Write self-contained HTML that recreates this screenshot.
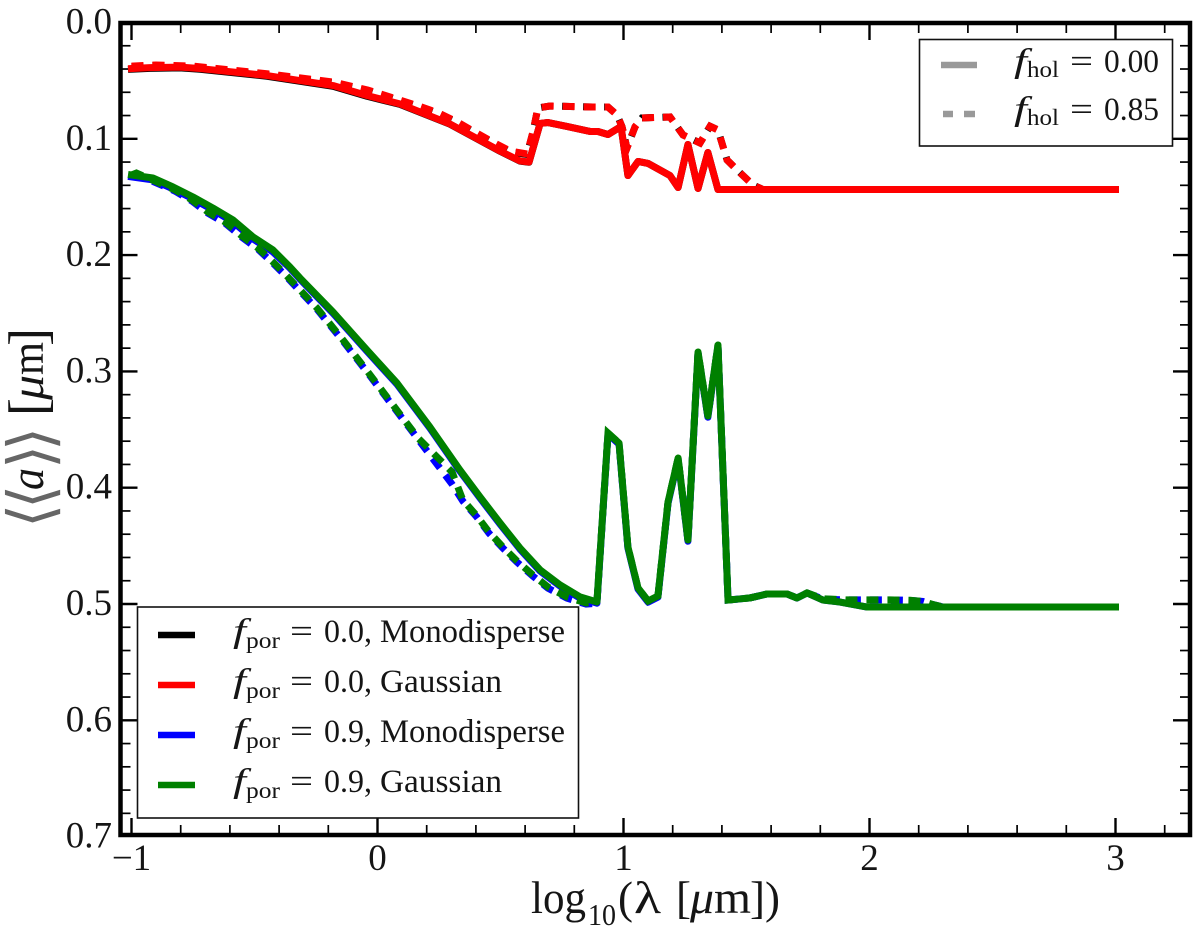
<!DOCTYPE html>
<html>
<head>
<meta charset="utf-8">
<style>
html,body{margin:0;padding:0;background:#fff;}
svg{display:block;}
text{font-family:"Liberation Serif","DejaVu Serif",serif;fill:#151515;}
</style>
</head>
<body>
<svg id="chart" width="1200" height="935" viewBox="0 0 1200 935" xmlns="http://www.w3.org/2000/svg">
<rect x="0" y="0" width="1200" height="935" fill="#fff"/>
<g id="ticks"></g>
<defs><clipPath id="plotclip"><rect x="121" y="23" width="1068" height="812"/></clipPath></defs>
<g id="series" clip-path="url(#plotclip)"></g>
<rect x="120.5" y="23" width="1069.5" height="812" fill="none" stroke="#000" stroke-width="4.5"/>
<g id="ticklabels"></g>

<g>
<text x="531" y="913" font-size="45" textLength="55" lengthAdjust="spacingAndGlyphs">log</text>
<text x="588" y="925" font-size="31" textLength="28" lengthAdjust="spacingAndGlyphs">10</text>
<text x="618" y="913" font-size="45">(</text>
<text x="634" y="913" font-size="45" textLength="27" lengthAdjust="spacingAndGlyphs">λ</text>
<text x="676" y="913" font-size="45">[</text>
<text x="690" y="913" font-size="45" font-style="italic" textLength="24" lengthAdjust="spacingAndGlyphs">μ</text>
<text x="714" y="913" font-size="45" textLength="37" lengthAdjust="spacingAndGlyphs">m</text>
<text x="750" y="913" font-size="45">])</text>
</g>

<g transform="translate(43,522) rotate(-90)">
<text x="-6" y="9" font-size="62" style="font-family:'DejaVu Sans',sans-serif;fill:#666">⟨</text>
<text x="13" y="9" font-size="62" style="font-family:'DejaVu Sans',sans-serif;fill:#666">⟨</text>
<text x="32" y="0" font-size="48" font-style="italic" textLength="22" lengthAdjust="spacingAndGlyphs">a</text>
<text x="53" y="9" font-size="62" style="font-family:'DejaVu Sans',sans-serif;fill:#666">⟩</text>
<text x="71" y="9" font-size="62" style="font-family:'DejaVu Sans',sans-serif;fill:#666">⟩</text>
<text x="106" y="3" font-size="54">[</text>
<text x="122" y="0" font-size="45" font-style="italic" textLength="25" lengthAdjust="spacingAndGlyphs">μ</text>
<text x="147" y="0" font-size="45" textLength="33" lengthAdjust="spacingAndGlyphs">m</text>
<text x="176" y="3" font-size="54">]</text>
</g>

<g>
<rect x="137.5" y="607" width="441" height="211" fill="#fff" stroke="#111" stroke-width="1.6"/>
<g>
<line x1="158" x2="195" y1="635" y2="635" stroke="#000" stroke-width="6.5"/>
<text x="233" y="642" font-size="34" font-style="italic" textLength="13" lengthAdjust="spacingAndGlyphs">f</text>
<text x="246" y="648" font-size="23" textLength="34" lengthAdjust="spacingAndGlyphs">por</text>
<text x="290" y="642" font-size="33" textLength="23" lengthAdjust="spacingAndGlyphs">=</text>
<text x="324" y="642" font-size="33" textLength="48" lengthAdjust="spacingAndGlyphs">0.0,</text>
<text x="380" y="642" font-size="33" textLength="185" lengthAdjust="spacingAndGlyphs">Monodisperse</text>
</g>
<g>
<line x1="158" x2="195" y1="685" y2="685" stroke="#f00" stroke-width="6.5"/>
<text x="233" y="692" font-size="34" font-style="italic" textLength="13" lengthAdjust="spacingAndGlyphs">f</text>
<text x="246" y="698" font-size="23" textLength="34" lengthAdjust="spacingAndGlyphs">por</text>
<text x="290" y="692" font-size="33" textLength="23" lengthAdjust="spacingAndGlyphs">=</text>
<text x="324" y="692" font-size="33" textLength="48" lengthAdjust="spacingAndGlyphs">0.0,</text>
<text x="380" y="692" font-size="33" textLength="122" lengthAdjust="spacingAndGlyphs">Gaussian</text>
</g>
<g>
<line x1="158" x2="195" y1="735" y2="735" stroke="#00f" stroke-width="6.5"/>
<text x="233" y="742" font-size="34" font-style="italic" textLength="13" lengthAdjust="spacingAndGlyphs">f</text>
<text x="246" y="748" font-size="23" textLength="34" lengthAdjust="spacingAndGlyphs">por</text>
<text x="290" y="742" font-size="33" textLength="23" lengthAdjust="spacingAndGlyphs">=</text>
<text x="324" y="742" font-size="33" textLength="48" lengthAdjust="spacingAndGlyphs">0.9,</text>
<text x="380" y="742" font-size="33" textLength="185" lengthAdjust="spacingAndGlyphs">Monodisperse</text>
</g>
<g>
<line x1="158" x2="195" y1="785" y2="785" stroke="#008000" stroke-width="6.5"/>
<text x="233" y="792" font-size="34" font-style="italic" textLength="13" lengthAdjust="spacingAndGlyphs">f</text>
<text x="246" y="798" font-size="23" textLength="34" lengthAdjust="spacingAndGlyphs">por</text>
<text x="290" y="792" font-size="33" textLength="23" lengthAdjust="spacingAndGlyphs">=</text>
<text x="324" y="792" font-size="33" textLength="48" lengthAdjust="spacingAndGlyphs">0.9,</text>
<text x="380" y="792" font-size="33" textLength="122" lengthAdjust="spacingAndGlyphs">Gaussian</text>
</g>
</g>

<g>
<rect x="919.5" y="39.5" width="253" height="106.5" fill="#fff" stroke="#111" stroke-width="1.6"/>
<g>
<line x1="941" x2="977" y1="65" y2="65" stroke="#999" stroke-width="6.5"/>
<text x="1014" y="72" font-size="34" font-style="italic" textLength="13" lengthAdjust="spacingAndGlyphs">f</text>
<text x="1027" y="77" font-size="23" textLength="32" lengthAdjust="spacingAndGlyphs">hol</text>
<text x="1070" y="72" font-size="33" textLength="23" lengthAdjust="spacingAndGlyphs">=</text>
<text x="1104" y="72" font-size="33" textLength="55" lengthAdjust="spacingAndGlyphs">0.00</text>
</g>
<g>
<line x1="943" x2="953" y1="114" y2="114" stroke="#999" stroke-width="6.5"/>
<line x1="964" x2="975" y1="114" y2="114" stroke="#999" stroke-width="6.5"/>
<text x="1014" y="120" font-size="34" font-style="italic" textLength="13" lengthAdjust="spacingAndGlyphs">f</text>
<text x="1027" y="125" font-size="23" textLength="32" lengthAdjust="spacingAndGlyphs">hol</text>
<text x="1070" y="120" font-size="33" textLength="23" lengthAdjust="spacingAndGlyphs">=</text>
<text x="1104" y="120" font-size="33" textLength="55" lengthAdjust="spacingAndGlyphs">0.85</text>
</g>
</g>
</svg>
<script>
const xTickValues = [-1, 0, 1, 2, 3];
const xTickLabels = ["\u22121", "0", "1", "2", "3"];
const yTickValues = [0, 0.1, 0.2, 0.3, 0.4, 0.5, 0.6, 0.7];
const yTickLabels = ["0.0", "0.1", "0.2", "0.3", "0.4", "0.5", "0.6", "0.7"];

const lamPor0Solid = [-1,-.925,-.803,-.722,-.449,-.181,-.043,.091,.295,.498,.579,.616,.661,.693,.770,.864,.896,.937,.990,1.018,1.059,1.100,1.189,1.222,1.262,1.303,1.343,1.384,3];
const blackSolid = [.0402,.0394,.039,.0402,.0462,.0548,.0634,.0704,.0875,.1107,.1192,.1202,.0868,.086,.0894,.0937,.0937,.0963,.0894,.1316,.1195,.1212,.1316,.1419,.1049,.1427,.1118,.1436,.1436];
const redSolid = [.0396,.0388,.0384,.0396,.0456,.0542,.0628,.07,.0873,.1105,.119,.12,.0868,.086,.0894,.0937,.0937,.0963,.0894,.1316,.1195,.1212,.1316,.1419,.1049,.1427,.1118,.1436,.1436];

const lamPor0Dashed = [-1,-.9,-.75,-.45,-.18,-.04,.09,.167,.248,.325,.396,.469,.539,.608,.632,.652,.701,.876,.937,.974,.994,1.014,1.047,1.075,1.189,1.242,1.311,1.352,1.384,1.421,1.462,1.526,1.567,3];
const blackDashed = [.038,.037,.038,.0445,.0517,.0585,.0671,.0723,.0783,.0861,.0947,.1033,.111,.1135,.0941,.0735,.0718,.0727,.0727,.0795,.0896,.1079,.0896,.0821,.0812,.0967,.1036,.0892,.0924,.1182,.1268,.1397,.1436,.1436];
const redDashed = [.0375,.0365,.0375,.044,.0512,.058,.0666,.0718,.0778,.0856,.0942,.1028,.1105,.113,.0941,.0735,.0718,.0727,.0727,.0795,.0896,.1079,.0896,.0821,.0812,.0967,.1036,.0892,.0924,.1182,.1268,.1397,.1436,.1436];

const lamPor9Solid = [-1,-.913,-.831,-.75,-.669,-.587,-.506,-.425,-.356,-.315,-.181,-.043,.079,.213,.335,.417,.498,.579,.661,.742,.823,.892,.937,.982,1.018,1.059,1.100,1.140,1.181,1.222,1.262,1.303,1.343,1.384,1.425,1.514,1.583,1.665,1.705,1.746,1.811,1.880,1.990,2.071,3];
const blueSolid = [.1328,.1354,.1431,.1517,.1612,.1715,.1861,.1973,.2112,.2207,.2499,.2826,.311,.3488,.3858,.409,.4313,.4528,.4717,.4846,.4949,.4993,.354,.3626,.452,.4872,.4984,.4941,.4133,.3755,.446,.2843,.3394,.2783,.4966,.4948,.4914,.4914,.4948,.4905,.4966,.4983,.5026,.5026,.5026];
const greenSolid = [.1311,.1337,.1414,.15,.1595,.1698,.1844,.1956,.2102,.2197,.2489,.2816,.31,.3478,.3848,.408,.4303,.4518,.4707,.4836,.4939,.4983,.353,.3616,.451,.4862,.4974,.4931,.4123,.3745,.445,.2833,.3384,.2773,.4966,.4948,.4914,.4914,.4948,.4905,.4966,.4983,.5026,.5026,.5026];

const lamPor9Dashed = [-1,-.98,-.823,-.754,-.689,-.62,-.551,-.486,-.425,-.372,-.246,-.14,-.039,.063,.165,.303,.347,.404,.453,.510,.567,.632,.693,.770,.848,.892,.937,.982,1.018,1.059,1.100,1.140,1.181,1.222,1.262,1.303,1.343,1.384,1.425,1.514,1.583,1.665,1.705,1.746,1.811,1.908,2.002,2.083,2.165,2.217,2.266,2.299,3];
const blueDashed = [.1321,.1304,.145,.1536,.164,.1725,.1846,.1949,.2069,.2181,.2465,.274,.3015,.3299,.3583,.3969,.4116,.4253,.4391,.452,.464,.4761,.4864,.495,.5001,.4993,.3535,.3621,.4515,.4867,.4979,.4936,.4128,.375,.4455,.2838,.3389,.2778,.4966,.4948,.4914,.4914,.4948,.4905,.4958,.4965,.4965,.4965,.4968,.4978,.5009,.5026,.5026];
const greenDashed = [.1311,.1294,.144,.1526,.163,.1715,.1836,.1939,.2059,.2171,.2455,.273,.3005,.3289,.3573,.3865,.4106,.4243,.4381,.451,.463,.4751,.4854,.494,.4991,.4983,.353,.3616,.451,.4862,.4974,.4931,.4123,.3745,.445,.2833,.3384,.2773,.4966,.4948,.4914,.4914,.4948,.4905,.4955,.4965,.4965,.4965,.4968,.4978,.5009,.5026,.5026];

const SVGNS = "http://www.w3.org/2000/svg";
function xScale(v) { return 377.5 + 246 * v; }
function yScale(v) { return 22.5 + 1163 * v; }

const seriesLayer = document.getElementById("series");
const tickLayer = document.getElementById("ticks");
const labelLayer = document.getElementById("ticklabels");

function drawSeries(name, xs, ys, color, dashed, dashOffset) {
  const p = document.createElementNS(SVGNS, "path");
  
  
  let d = "";
  for (let i = 0; i < xs.length; i++) {
    d += (i ? "L" : "M") + xScale(xs[i]).toFixed(2) + " " + yScale(ys[i]).toFixed(2);
  }
  p.setAttribute("d", d);
  p.setAttribute("fill", "none");
  p.setAttribute("stroke", color);
  p.setAttribute("stroke-width", "7");
  if (dashed) {
    p.setAttribute("stroke-linecap", "butt");
    p.setAttribute("stroke-dasharray", "12 9");
    p.setAttribute("stroke-dashoffset", dashOffset);
    p.setAttribute("stroke-linejoin", "miter");
  } else {
    p.setAttribute("stroke-linecap", "square");
    p.setAttribute("stroke-linejoin", "round");
  }
  seriesLayer.appendChild(p);
}
drawSeries("line-por0-mono-hol000", lamPor0Solid, blackSolid, "#000", false, 0);
drawSeries("line-por0-mono-hol085", lamPor0Dashed, blackDashed, "#000", true, 0);
drawSeries("line-por0-gauss-hol000", lamPor0Solid, redSolid, "#f00", false, 0);
drawSeries("line-por0-gauss-hol085", lamPor0Dashed, redDashed, "#f00", true, 0);
drawSeries("line-por9-mono-hol000", lamPor9Solid, blueSolid, "#00f", false, 0);
drawSeries("line-por9-mono-hol085", lamPor9Dashed, blueDashed, "#00f", true, -2);
drawSeries("line-por9-gauss-hol000", lamPor9Solid, greenSolid, "#008000", false, 0);
drawSeries("line-por9-gauss-hol085", lamPor9Dashed, greenDashed, "#008000", true, 0);

function tickLine(x1, y1, x2, y2, w) {
  const l = document.createElementNS(SVGNS, "line");
  
  
  l.setAttribute("x1", x1);
  l.setAttribute("y1", y1);
  l.setAttribute("x2", x2);
  l.setAttribute("y2", y2);
  l.setAttribute("stroke", "#000");
  l.setAttribute("stroke-width", w);
  tickLayer.appendChild(l);
}
function tickLabel(x, y, s, anchor) {
  const t = document.createElementNS(SVGNS, "text");
  
  
  t.setAttribute("x", x);
  t.setAttribute("y", y);
  t.setAttribute("font-size", "37");
  t.setAttribute("text-anchor", anchor);
  t.textContent = s;
  labelLayer.appendChild(t);
}

const top_ = 23, bottom_ = 835, left_ = 120.5, right_ = 1190;
for (let i = -5; i <= 21; i++) {
  const v = i * 0.2 ;
  const px = xScale(v);
  if (px < left_ + 3 || px > right_ - 3) continue;
  const major = i % 5 === 0;
  const len = major ? 17 : 10;
  const w = major ? 2.4 : 1.7;
  tickLine(px, bottom_, px, bottom_ - len, w);
  tickLine(px, top_, px, top_ + len, w);
}
for (let i = 1; i <= 34; i++) {
  const v = i * 0.02;
  const py = yScale(v);
  const major = i % 5 === 0;
  const len = major ? 17 : 10;
  const w = major ? 2.4 : 1.7;
  tickLine(left_, py, left_ + len, py, w);
  tickLine(right_, py, right_ - len, py, w);
}
xTickValues.forEach(function (v, i) {
  tickLabel(xScale(v), 870, xTickLabels[i], "middle");
});
yTickValues.forEach(function (v, i) {
  tickLabel(112, yScale(v) + 11, yTickLabels[i], "end");
});
</script>
</body>
</html>
